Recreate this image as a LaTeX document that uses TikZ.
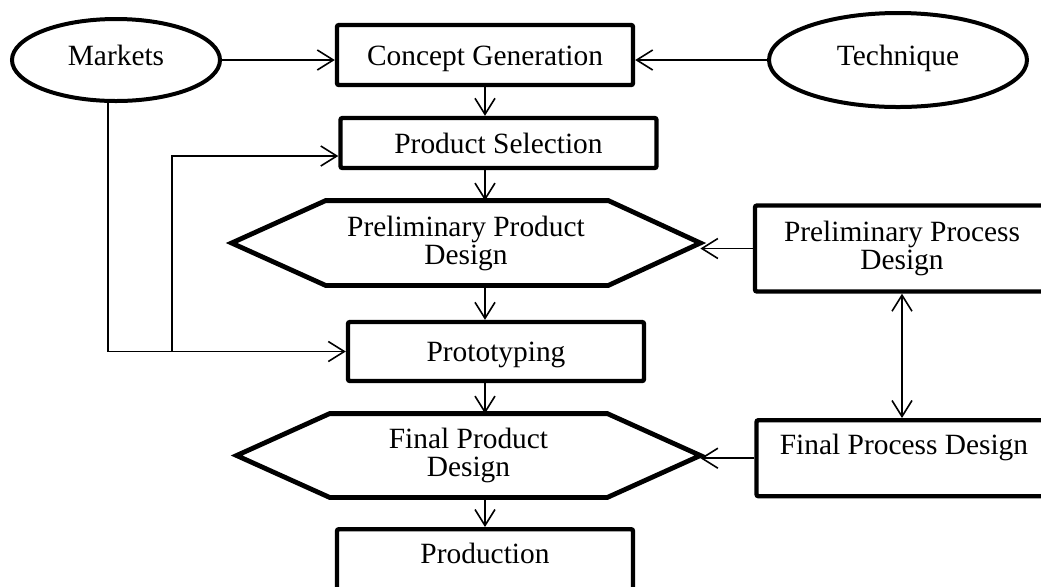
\documentclass[tikz,border=0pt]{standalone}
\usepackage{fontspec}
\setmainfont{Liberation Serif}
\usetikzlibrary{arrows.meta,calc,positioning,shapes.geometric}

\begin{document}
\begin{tikzpicture}[x=0.5pt,y=-0.5pt,
  font=\fontsize{14.7}{14}\selectfont,
  >={Straight Barb[length=8pt,width=10pt]},
  box/.style={draw,line width=2.2pt,rounded corners=1pt,align=center,inner sep=0pt,
              minimum width=#1},box/.default=148pt,
  oneline/.style={text height=10pt,text depth=0pt},
  tallbox/.style={box=#1,text height=17pt,text depth=21pt},tallbox/.default=148pt,
  oval/.style={draw,ellipse,line width=2pt,inner sep=0pt,text height=5pt,text depth=0pt},
  hexa/.style={align=center,inner sep=0pt,minimum width=234pt,minimum height=#1},hexa/.default=42pt,
  hexline/.style={line width=2.4pt},
  link/.style={line width=0.8pt,->}]
  \useasboundingbox (0,0) rectangle (1041,586);
  \clip (0,0) rectangle (1041,586);
  % inputs
  \node[oval,minimum width=104pt,minimum height=41pt] (mk) at (116,60) {Markets};
  \node[oval,minimum width=129pt,minimum height=47pt] (tq) at (898,60) {Technique};
  % main flow
  \node[box,oneline,minimum height=30pt] (cg) at (485,55) {Concept Generation};
  \node[box=158pt,oneline,minimum height=25pt] (ps) at (498.5,143) {Product Selection};
  \node[hexa] (ppd) at (466,243) {Preliminary Product\\Design};
  \draw[hexline] (ppd.west) -- ([xshift=47pt]ppd.north west) -- ([xshift=-46pt]ppd.north east)
    -- (ppd.east) -- ([xshift=-46pt]ppd.south east) -- ([xshift=47pt]ppd.south west) -- cycle;
  \node[box,oneline,minimum height=29.5pt] (pt) at (496,351.5) {Prototyping};
  \node[hexa=41.5pt,minimum width=231.5pt] (fpd) at (468.5,455.5) {Final Product\\Design};
  \draw[hexline] (fpd.west) -- ([xshift=46.5pt]fpd.north west) -- ([xshift=-46.5pt]fpd.north east)
    -- (fpd.east) -- ([xshift=-46.5pt]fpd.south east) -- ([xshift=46.5pt]fpd.south west) -- cycle;
  \node[tallbox,anchor=north] (pd) at (485,527) {Production};
  % process side
  \node[box=147pt,minimum height=43pt] (ppr) at (902,248.5) {Preliminary Process\\Design};
  \node[tallbox=147.5pt,anchor=north] (fpr) at (904,418) {Final Process Design};

  \draw[link] (mk.east) -- (mk.east -| cg.west);
  \draw[link] (tq.west) -- (tq.west -| cg.east);
  \draw[link] (cg.south) -- (cg.south |- ps.north);
  \draw[link] (cg.south |- ps.south) -- (cg.south |- ppd.north);
  \draw[link] (cg.south |- ppd.south) -- (cg.south |- pt.north);
  \draw[link] (cg.south |- pt.south) -- (cg.south |- fpd.north);
  \draw[link] (cg.south |- fpd.south) -- (pd.north);
  \draw[link] (ppr.west) -- (ppr.west -| ppd.east);
  \draw[link] (fpr.west) -- (fpr.west -| fpd.east);
  \draw[link,<->] (ppr.south) -- (ppr.south |- fpr.north);
  % markets feedback
  \draw[link] ([xshift=-4pt]mk.south) |- (pt.west);
  \coordinate (br) at (172,351.5);
  \draw[link] (br) |- ([yshift=-6.5pt]ps.west);
\end{tikzpicture}
\end{document}
